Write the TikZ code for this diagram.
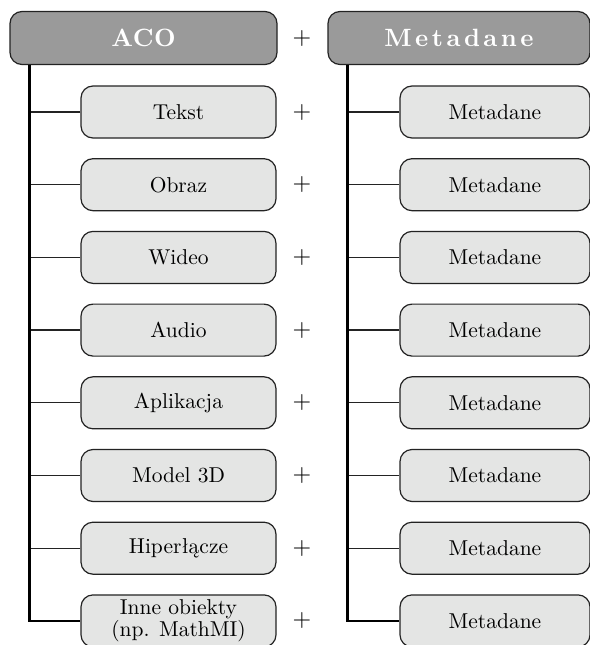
\documentclass[tikz,border=0pt]{standalone}
\usepackage{fontspec}
\setmainfont{lmroman10-regular.otf}[BoldFont=lmroman10-bold.otf]
\definecolor{headgray}{RGB}{154,154,154}
\definecolor{childgray}{RGB}{228,229,228}
\definecolor{edgegray}{RGB}{35,35,35}
\begin{document}
\begin{tikzpicture}[x=1pt,y=-1pt,
  box/.style={draw=edgegray, line width=1.2pt, rounded corners=12pt,
    minimum width=195pt, minimum height=52pt, inner sep=0pt,
    fill=childgray, align=center, text=black,
    font=\fontsize{21.5}{22}\selectfont},
  rbox/.style={box, minimum width=190pt},
  head/.style={box, fill=headgray, minimum height=53pt, text=white},
  plus/.style={font=\fontsize{24}{26}\selectfont, text=black}]
\tikzset{
  branch/.style={draw=edgegray, line width=1.3pt},
  trunk/.style={draw=black, line width=2.4pt}}
\useasboundingbox (0,0) rectangle (589,645);

% column headers
\node[head, minimum width=267pt,
  font=\fontsize{25}{27}\selectfont\bfseries\addfontfeatures{LetterSpace=2}]
  (aco) at (143.5,38) {ACO};
\node[head, minimum width=262pt,
  font=\fontsize{25}{27}\selectfont\bfseries\addfontfeatures{LetterSpace=14}]
  (meta) at (459,38) {Metadane};
\node[plus] (p0) at (302,38) {+};

% object rows and their metadata
\foreach \i/\t in {1/Tekst, 2/Obraz, 3/Wideo, 4/Audio, 5/Aplikacja,
                   6/Model 3D, 7/Hiperłącze, 8/{Inne obiekty\\(np. MathMI)}} {
  \pgfmathsetmacro{\yy}{112 + (\i-1)*72.7}
  \node[box]  (l\i) at (178.5,\yy) {\t};
  \node[rbox] (r\i) at (495,\yy) {Metadane};
  \node[plus] (p\i) at (302,\yy) {+};
}

% trees
\coordinate (lt) at ([xshift=20pt]aco.south west);
\coordinate (rt) at ([xshift=20pt]meta.south west);
\foreach \i in {1,...,7} {
  \draw[branch] (l\i.west) -- (l\i.west -| lt);
  \draw[branch] (r\i.west) -- (r\i.west -| rt);
}
\draw[trunk] (lt) |- (l8.west);
\draw[trunk] (rt) |- (r8.west);
\end{tikzpicture}
\end{document}
